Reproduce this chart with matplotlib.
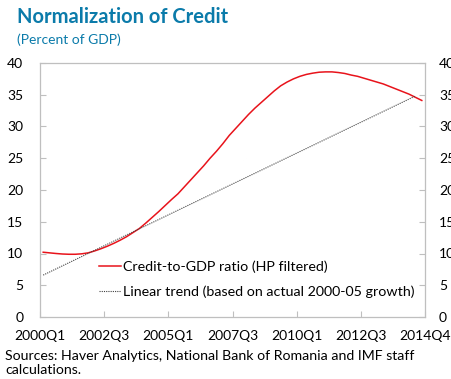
import numpy as np
import matplotlib.pyplot as plt

plt.rcParams['font.family'] = ['Lato', 'DejaVu Sans']

# quarterly periods 2000Q1 .. 2014Q4
quarters = [f"{y}Q{q}" for y in range(2000, 2015) for q in range(1, 5)]

# credit-to-GDP ratio, HP filtered (percent of GDP)
credit_hp = [
    10.2, 10.1, 10.0, 9.92, 9.88, 9.88, 9.95, 10.1, 10.4, 10.75,
    11.15, 11.6, 12.1, 12.65, 13.3, 13.95, 14.8, 15.7, 16.6, 17.55,
    18.5, 19.4, 20.5, 21.6, 22.7, 23.8, 25.0, 26.1, 27.3, 28.6,
    29.7, 30.8, 31.9, 32.9, 33.8, 34.7, 35.6, 36.4, 37.0, 37.5,
    37.9, 38.2, 38.4, 38.55, 38.6, 38.6, 38.5, 38.35, 38.1, 37.9,
    37.6, 37.3, 37.0, 36.7, 36.3, 35.9, 35.5, 35.1, 34.6, 34.1,
]

# linear trend based on 2000-05 growth: end points
trend_periods = ["2000Q1", "2014Q3"]
trend_values = [6.6, 34.8]

tick_labels = ["2000Q1", "2002Q3", "2005Q1", "2007Q3", "2010Q1", "2012Q3", "2014Q4"]

blue = "#0B7BAA"
grey = "#BFBFBF"

fig = plt.figure(figsize=(4.51, 3.79), dpi=100)
ax = fig.add_axes([40 / 451, 62 / 379, 385 / 451, 254 / 379])

x = np.arange(len(quarters))
ax.plot(x, credit_hp, color="#E8131B", lw=1.1,
        label="Credit-to-GDP ratio (HP filtered)")
tx = [quarters.index(q) for q in trend_periods]
ax.plot(tx, trend_values, color="#404040", lw=0.8, linestyle=(0, (1, 1)),
        label="Linear trend (based on actual 2000-05 growth)")

ax.set_xlim(-0.5, len(quarters) - 0.5)
ax.set_ylim(0, 40)
ax.set_yticks(range(0, 41, 5))
ax.set_xticks(np.arange(7) * 10 - 0.5)
ax.set_xticklabels(tick_labels)

for s in ax.spines.values():
    s.set_color(grey)
    s.set_linewidth(0.9)

ax.tick_params(axis="both", direction="in", length=4, color=grey,
               labelsize=10, labelcolor="black")
ax.tick_params(axis="y", pad=12)
ax.tick_params(axis="x", pad=9)

ax2 = ax.twinx()
ax2.set_ylim(0, 40)
ax2.set_yticks(range(0, 41, 5))
ax2.tick_params(axis="y", direction="in", length=4, color=grey,
                labelsize=10, pad=10)
for s in ax2.spines.values():
    s.set_visible(False)

ax.legend(loc="lower right", bbox_to_anchor=(1.0, 0.035), frameon=False,
          fontsize=10.3, handlelength=1.5, handletextpad=0.2,
          labelspacing=0.85, borderaxespad=0.3)

fig.text(17 / 451, 1 - 7 / 379, "Normalization of Credit", color=blue,
         fontsize=14.5, fontweight="bold", va="top", ha="left")
fig.text(17 / 451, 1 - 33 / 379, "(Percent of GDP)", color=blue,
         fontsize=10, va="top", ha="left")
fig.text(5 / 451, 1 - 350 / 379,
         "Sources: Haver Analytics, National Bank of Romania and IMF staff\ncalculations.",
         fontsize=10.2, va="top", ha="left", linespacing=1.18)

fig.savefig("out.png", dpi=100)
